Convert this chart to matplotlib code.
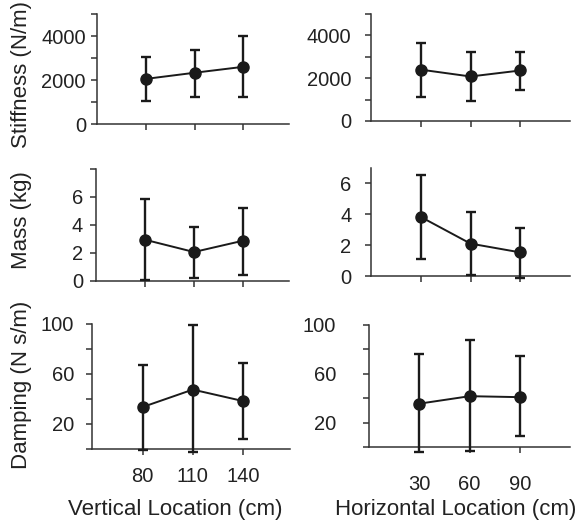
import matplotlib
matplotlib.use("Agg")
import matplotlib.pyplot as plt
import numpy as np

plt.rcParams['font.family'] = ['Liberation Sans', 'DejaVu Sans']

# ---- data ----
vert_loc = [80, 110, 140]
horiz_loc = [30, 60, 90]

stiff_v_mean = [2050, 2330, 2600]
stiff_v_lo = [1050, 1240, 1240]
stiff_v_hi = [3050, 3360, 4010]
stiff_h_mean = [2400, 2080, 2360]
stiff_h_lo = [1120, 930, 1460]
stiff_h_hi = [3650, 3240, 3240]

mass_v_mean = [2.95, 2.07, 2.88]
mass_v_lo = [0.1, 0.24, 0.46]
mass_v_hi = [5.86, 3.86, 5.21]
mass_h_mean = [3.83, 2.10, 1.53]
mass_h_lo = [1.07, 0.05, -0.1]
mass_h_hi = [6.56, 4.13, 3.08]

damp_v_mean = [33.4, 47.4, 38.2]
damp_v_lo = [-1, -2.7, 7.8]
damp_v_hi = [67, 98.8, 68.9]
damp_h_mean = [35.7, 41.8, 41.0]
damp_h_lo = [-3.8, -3.2, 9]
damp_h_hi = [76.6, 87.6, 74.8]

stiff_ticks = [0, 1000, 2000, 3000, 4000, 5000]
stiff_labels = ['0', '', '2000', '', '4000', '']
mass_v_ticks = [0, 2, 4, 6, 8]
mass_v_labels = ['0', '2', '4', '6', '']
mass_h_ticks = [0, 2, 4, 6]
mass_h_labels = ['0', '2', '4', '6']
damp_ticks = [0, 20, 40, 60, 80, 100]
damp_labels = ['', '20', '', '60', '', '100']

ylabels = ['Stiffness (N/m)', 'Mass (kg)', 'Damping (N s/m)']

W, H = 579, 523
fig = plt.figure(figsize=(W / 100, H / 100), dpi=100)

def rect(x0, x1, y0, y1):
    return [x0 / W, 1 - y1 / H, (x1 - x0) / W, (y1 - y0) / H]

DATA_C = '#1a1a1a'
AX_C = '#333333'
TXT_C = '#222222'

panels = [
    # (rect, x, mean, lo, hi, ylim, yticks, ylabels, xlim, ypad, xpad, show xlabels)
    (rect(97, 289, 14, 124), vert_loc, stiff_v_mean, stiff_v_lo, stiff_v_hi, (0, 5000), stiff_ticks, stiff_labels, (50, 168), 4, 8, False),
    (rect(371, 570, 14, 121), horiz_loc, stiff_h_mean, stiff_h_lo, stiff_h_hi, (0, 5000), stiff_ticks, stiff_labels, (0, 120), 10, 8, False),
    (rect(95.7, 289, 169, 281), vert_loc, mass_v_mean, mass_v_lo, mass_v_hi, (0, 8), mass_v_ticks, mass_v_labels, (50, 168), 5, 8, False),
    (rect(371, 570, 168, 276), horiz_loc, mass_h_mean, mass_h_lo, mass_h_hi, (0, 7), mass_h_ticks, mass_h_labels, (0, 120), 10, 8, False),
    (rect(92.3, 290, 324, 448.7), vert_loc, damp_v_mean, damp_v_lo, damp_v_hi, (0, 100), damp_ticks, damp_labels, (50, 168), 9, 9, True),
    (rect(369.3, 570, 325, 447.3), horiz_loc, damp_h_mean, damp_h_lo, damp_h_hi, (0, 100), damp_ticks, damp_labels, (0, 120), 20, 16, True),
]

for (r, x, m, lo, hi, ylim, yt, yl, xlim, ypad, xpad, showx) in panels:
    ax = fig.add_axes(r)
    m = np.array(m, float)
    yerr = [m - np.array(lo, float), np.array(hi, float) - m]
    ax.errorbar(x, m, yerr=yerr, fmt='-o', color=DATA_C, ms=8, lw=1.4,
                elinewidth=1.7, capsize=3.5, capthick=1.7, clip_on=False, zorder=3)
    ax.set_ylim(*ylim)
    ax.set_xlim(*xlim)
    ax.set_yticks(yt)
    ax.set_yticklabels(yl)
    ax.set_xticks(x)
    if showx:
        ax.set_xticklabels([str(v) for v in x])
    else:
        ax.set_xticklabels([])
    for s in ['top', 'right']:
        ax.spines[s].set_visible(False)
    for s in ['left', 'bottom']:
        ax.spines[s].set_color(AX_C)
        ax.spines[s].set_linewidth(1.1)
    ax.tick_params(axis='both', direction='out', length=4, width=1.1, color=AX_C,
                   labelsize=14.5, labelcolor=TXT_C)
    ax.tick_params(axis='y', pad=ypad)
    ax.tick_params(axis='x', pad=xpad)

# y labels (left column)
fig.text(22 / W, 1 - 74 / H, ylabels[0], rotation=90, ha='center', va='center', fontsize=16, color=TXT_C)
fig.text(22 / W, 1 - 220 / H, ylabels[1], rotation=90, ha='center', va='center', fontsize=16, color=TXT_C)
fig.text(22 / W, 1 - 385 / H, ylabels[2], rotation=90, ha='center', va='center', fontsize=16, color=TXT_C)

# x labels
fig.text(175 / W, 1 - 510 / H, 'Vertical Location (cm)', ha='center', va='center', fontsize=16, color=TXT_C)
fig.text(456 / W, 1 - 510 / H, 'Horizontal Location (cm)', ha='center', va='center', fontsize=16, color=TXT_C)

fig.savefig('out.png', dpi=100)
